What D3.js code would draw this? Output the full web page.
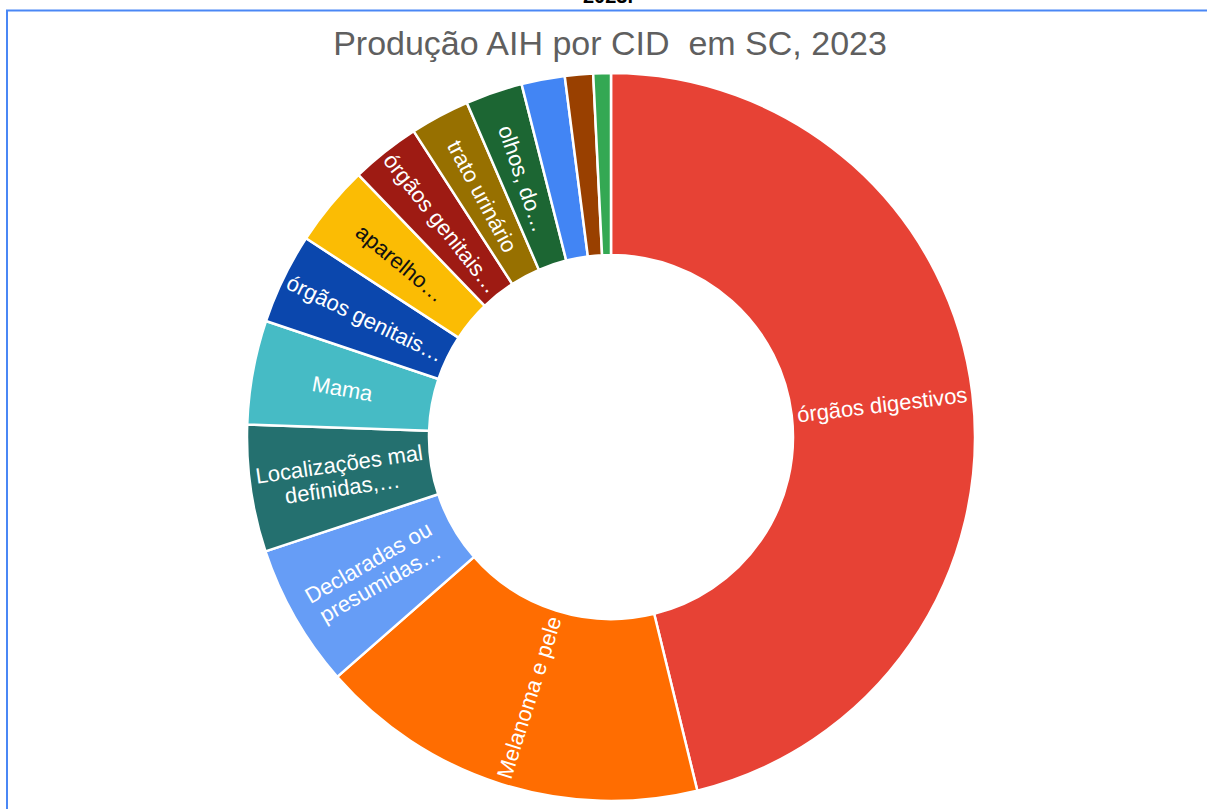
<!DOCTYPE html>
<html>
<head>
<meta charset="utf-8">
<script src="https://cdn.jsdelivr.net/npm/d3@7"></script>
<style>
  html, body { margin: 0; padding: 0; background: #fff; }
  svg { display: block; }
  .pre { white-space: pre; }
</style>
</head>
<body>
<svg id="chart" width="1207" height="809"></svg>
<script>
// ---- data ----
const categories = [
  "órgãos digestivos",
  "Melanoma e pele",
  "Declaradas ou presumidas como primárias",
  "Localizações mal definidas, secundárias e não especificadas",
  "Mama",
  "órgãos genitais masculinos",
  "aparelho respiratório",
  "órgãos genitais femininos",
  "trato urinário",
  "olhos, do encéfalo e outras partes do SNC",
  "tecido linfático e hematopoético",
  "lábio, cavidade oral e faringe",
  "tireoide e outras glândulas endócrinas"
];
const sliceLabels = [
  ["órgãos digestivos"],
  ["Melanoma e pele"],
  ["Declaradas ou", "presumidas…"],
  ["Localizações mal", "definidas,…"],
  ["Mama"],
  ["órgãos genitais…"],
  ["aparelho…"],
  ["órgãos genitais…"],
  ["trato urinário"],
  ["olhos, do…"],
  [],
  [],
  []
];
const values = [4619, 1736, 636, 564, 461, 403, 361, 308, 264, 253, 192, 125, 78];
const colors = ["#e74235", "#ff6d01", "#669df6", "#24706f", "#46bbc5", "#0b47ad",
                "#fbbc04", "#9e1b13", "#977000", "#1c6633", "#4285f4", "#994000", "#34a853"];
const labelColors = ["#fff", "#fff", "#fff", "#fff", "#fff", "#fff",
                     "#111", "#fff", "#fff", "#fff", "#fff", "#fff", "#fff"];
const titleText = "Produção AIH por CID  em SC, 2023";
const topText = "2023.";

// ---- layout ----
const svg = d3.select("#chart");
const W = 1207, H = 809;
const cx = 611, cy = 437, rOuter = 364, rInner = 182;
const font = "Arial, 'Liberation Sans', sans-serif";

// cut-off text above the frame (as in the reference)
svg.append("text")
  .attr("x", 608).attr("y", 3)
  .attr("text-anchor", "middle")
  .attr("font-family", font).attr("font-weight", "bold")
  .attr("font-size", 20).attr("fill", "#000")
  .text(topText);

// frame
svg.append("path")
  .attr("d", `M7,${H} L7,10.5 L${W},10.5`)
  .attr("fill", "none").attr("stroke", "#4a87f5").attr("stroke-width", 2);

// title
svg.append("text")
  .attr("class", "pre")
  .attr("x", 610).attr("y", 55)
  .attr("text-anchor", "middle")
  .attr("font-family", font).attr("font-size", 34)
  .attr("fill", "#5f5f5f")
  .text(titleText);

const data = categories.map((c, i) => ({ cat: c, value: values[i], i }));
const pie = d3.pie().value(d => d.value).sort(null);
const arcs = pie(data);
const arc = d3.arc().innerRadius(rInner).outerRadius(rOuter);

const g = svg.append("g").attr("transform", `translate(${cx},${cy})`);

g.selectAll("path.slice")
  .data(arcs)
  .join("path")
  .attr("class", "slice")
  .attr("d", arc)
  .attr("fill", d => colors[d.data.i])
  .attr("stroke", "#fff")
  .attr("stroke-width", 2.5)
  .attr("stroke-linejoin", "round");

const rMid = (rInner + rOuter) / 2;
const labelG = g.selectAll("g.lbl")
  .data(arcs.filter(d => sliceLabels[d.data.i].length))
  .join("g")
  .attr("class", "lbl")
  .attr("transform", d => {
    const a = (d.startAngle + d.endAngle) / 2;
    const deg = a * 180 / Math.PI;
    const x = rMid * Math.sin(a), y = -rMid * Math.cos(a);
    const rot = deg < 180 ? deg - 90 : deg - 270;
    return `translate(${x},${y}) rotate(${rot})`;
  });

labelG.each(function(d) {
  const lines = sliceLabels[d.data.i];
  const n = lines.length;
  const lh = 24;
  const t = d3.select(this).append("text")
    .attr("text-anchor", "middle")
    .attr("font-family", font)
    .attr("font-size", 22)
    .attr("fill", labelColors[d.data.i]);
  lines.forEach((ln, k) => {
    t.append("tspan")
      .attr("x", 0)
      .attr("y", (k - (n - 1) / 2) * lh)
      .attr("dy", "0.36em")
      .text(ln);
  });
});
</script>
</body>
</html>
